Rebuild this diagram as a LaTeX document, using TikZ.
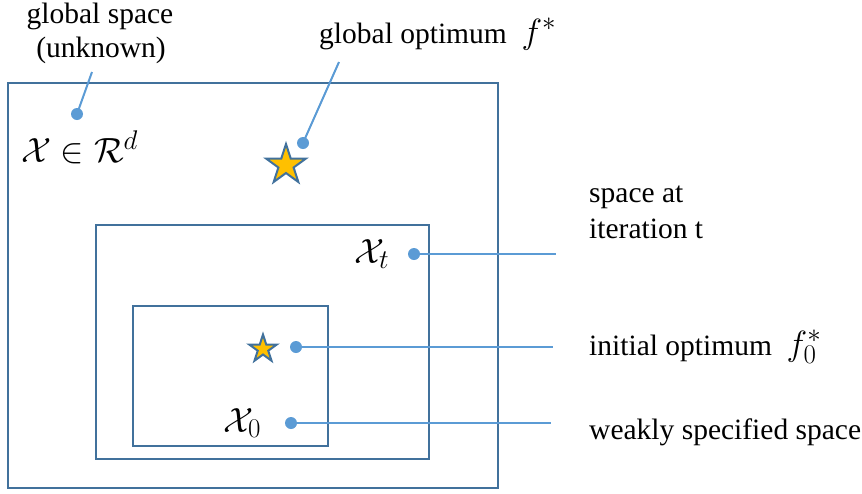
\RequirePackage{fix-cm}
\documentclass[tikz,border=0pt]{standalone}
\usepackage{fontspec}
\setmainfont{Liberation Serif}
\newfontfamily\tnr{Liberation Serif}
\DeclareMathSizes{35}{35}{27}{20}
\usetikzlibrary{shapes.geometric}
\definecolor{boxcol}{HTML}{41719C}
\definecolor{linecol}{HTML}{5B9BD5}
\definecolor{starfill}{HTML}{FFC000}
\begin{document}
\begin{tikzpicture}[x=1pt,y=-1pt,
  region/.style={draw=boxcol,line width=2pt},
  pin/.style={circle,fill=linecol,inner sep=0pt,minimum size=12pt},
  lead/.style={draw=linecol,line width=2pt},
  optstar/.style={star,star points=5,star point ratio=2.618,fill=starfill,draw=boxcol,line width=2pt,inner sep=0pt},
  lbl/.style={font=\tnr\fontsize{29.5}{36}\selectfont,inner sep=0pt},
  mlbl/.style={font=\fontsize{35}{40}\selectfont,inner sep=0pt}]
\useasboundingbox (0,0) rectangle (862,493);
% boxes
\draw[region] (8,83) rectangle (498,488);
\draw[region] (96,225) rectangle (429,459);
\draw[region] (133,306) rectangle (328,446);
% stars
\node[optstar,minimum size=42pt] (bigstar) at (286,165) {};
\node[optstar,minimum size=29pt] (smallstar) at (263,349) {};
% pins
\node[pin] (pgs) at (77,114) {};
\node[pin] (pgo) at (303,143) {};
\node[pin] (pxt) at (414,254) {};
\node[pin] (pf0) at (296,347) {};
\node[pin] (px0) at (291,423) {};
\coordinate (egs) at (92,72);
\coordinate (ego) at (339,62);
\coordinate (ext) at (556,254);
\coordinate (ef0) at (553,347);
\coordinate (ex0) at (551,423);
\draw[lead] (pgs.center) -- (egs);
\draw[lead] (pgo.center) -- (ego);
\draw[lead] (pxt.center) -- (ext);
\draw[lead] (pf0.center) -- (ef0);
\draw[lead] (px0.center) -- (ex0);
% labels
\node[lbl,anchor=base] (tgs) at (100,23) {global space};
\node[lbl,anchor=base] (tunk) at (101,57) {(unknown)};
\node[lbl,anchor=base west] (tgo) at (319,43) {global optimum\ \ {\fontsize{35}{40}\selectfont$f^{*}$}};
\node[mlbl,anchor=base west] (tX) at (21,162) {$\mathcal{X}\in\mathcal{R}^{d}$};
\node[mlbl,anchor=base west] (tXt) at (354,263) {$\mathcal{X}_{t}$};
\node[mlbl,anchor=base west] (tX0) at (223,432) {$\mathcal{X}_{0}$};
\node[lbl,anchor=base west,align=left] (tsp) at (589,238) {space at\\iteration t};
\node[lbl,anchor=base west] (tf0) at (589,355) {initial optimum\ \ {\fontsize{35}{40}\selectfont$f_{0}^{*}$}};
\node[lbl,anchor=base west] (tws) at (589,439) {weakly specified space};
\end{tikzpicture}
\end{document}
